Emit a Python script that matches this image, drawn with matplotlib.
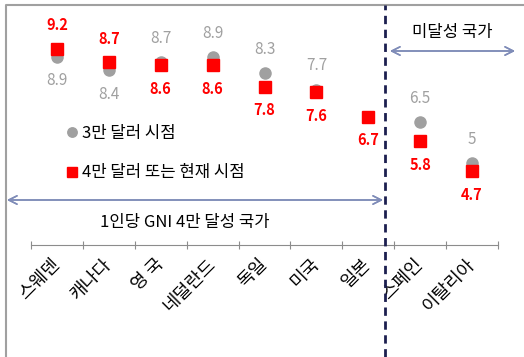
import numpy as np
import matplotlib
matplotlib.use('Agg')
from matplotlib import pyplot as plt
from matplotlib.lines import Line2D

plt.rcParams['font.family'] = ['Noto Sans CJK KR', 'DejaVu Sans']

countries = ['스웨덴', '캐나다', '영 국', '네덜란드', '독일', '미국', '일본', '스페인', '이탈리아']
gni_30k = [8.9, 8.4, 8.7, 8.9, 8.3, 7.7, np.nan, 6.5, 5.0]
gni_40k = [9.2, 8.7, 8.6, 8.6, 7.8, 7.6, 6.7, 5.8, 4.7]
gray_labels = ['8.9', '8.4', '8.7', '8.9', '8.3', '7.7', '', '6.5', '5']

W, H = 524, 357
GRAY = '#a0a0a0'
RED = '#ff0000'
ARROW = '#7f8cb8'

fig = plt.figure(figsize=(W / 100, H / 100), dpi=100)


def fx(x):
    return x / W


def fy(y):
    return 1 - y / H


ax = fig.add_axes([fx(31), fy(245), fx(498) - fx(31), fy(5) - fy(245)])
x = np.arange(len(countries))

ax.plot(x, gni_30k, 'o', color=GRAY, ms=8, zorder=3, label='3만 달러 시점')
ax.plot(x, gni_40k, 's', color=RED, ms=8.5, zorder=4, label='4만 달러 또는 현재 시점')

# value labels: whichever point is higher gets its label above
for i in x:
    g, r = gni_30k[i], gni_40k[i]
    red_up = (not np.isnan(g)) and r > g
    ax.annotate(f'{r:g}', (i, r), xytext=(0, 17 if red_up else -17),
                textcoords='offset points', ha='center', va='center',
                color=RED, fontsize=10.5, fontweight='bold')
    if not np.isnan(g):
        ax.annotate(gray_labels[i], (i, g), xytext=(0, -17 if red_up else 17),
                    textcoords='offset points', ha='center', va='center',
                    color=GRAY, fontsize=11)

ax.set_xlim(-0.5, len(countries) - 0.5)
ax.set_ylim(2, 10.8)
ax.set_yticks([])
for s in ['left', 'right', 'top']:
    ax.spines[s].set_visible(False)
ax.spines['bottom'].set_color('#8c8c8c')

ax.set_xticks(np.arange(len(countries) + 1) - 0.5)
ax.set_xticklabels([])
ax.tick_params(axis='x', which='major', direction='inout', length=6, color='#8c8c8c')
ax.set_xticks(x, countries, minor=True)
ax.tick_params(axis='x', which='minor', length=0, pad=12, labelsize=13)
for lbl in ax.get_xticklabels(minor=True):
    lbl.set_rotation(45)
    lbl.set_rotation_mode('anchor')
    lbl.set_ha('right')
    lbl.set_va('center')

ax.legend(loc='upper left', bbox_to_anchor=(fx(68), fy(125)), bbox_transform=fig.transFigure,
          frameon=False, fontsize=12, handlelength=0.5, handletextpad=0.35,
          labelspacing=1.35, borderpad=0, borderaxespad=0, markerscale=0.85)

# frame edges
fig.add_artist(Line2D([fx(6), fx(6), 1], [0, fy(5), fy(5)], color=GRAY, lw=1.5))

# divider between groups
fig.add_artist(Line2D([fx(385), fx(385)], [0, fy(5)], color='#1c1f4f', lw=2,
                      linestyle=(0, (3, 2))))

arrow = dict(arrowstyle='<->,head_length=0.6,head_width=0.3', color=ARROW, lw=1.1,
             shrinkA=0, shrinkB=0)
fig.add_artist(plt.annotate('', xy=(fx(7), fy(200)), xytext=(fx(383), fy(200)),
                            xycoords='figure fraction', arrowprops=arrow))
fig.text(fx(185), fy(222), '1인당 GNI 4만 달성 국가', ha='center', va='center', fontsize=12)
fig.add_artist(plt.annotate('', xy=(fx(390), fy(51)), xytext=(fx(515), fy(51)),
                            xycoords='figure fraction', arrowprops=arrow))
fig.text(fx(452), fy(32), '미달성 국가', ha='center', va='center', fontsize=12)

fig.savefig('out.png', dpi=100)
